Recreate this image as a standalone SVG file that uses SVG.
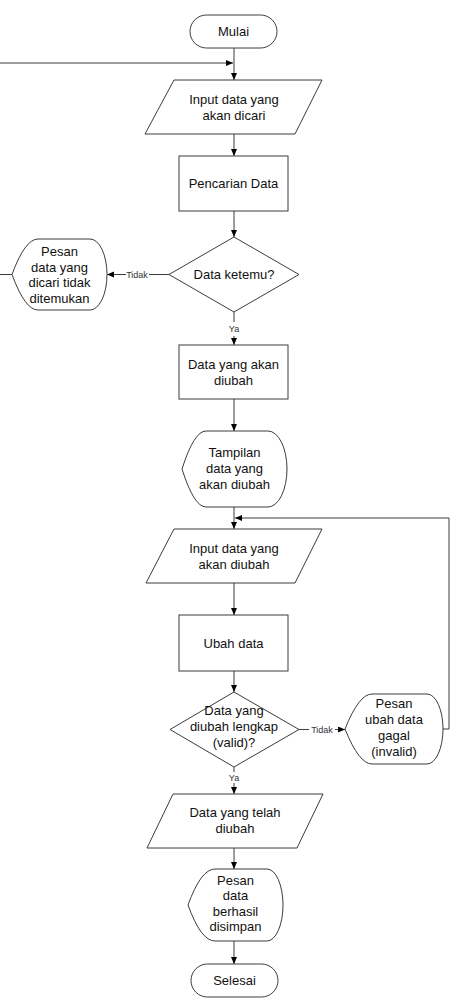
<svg xmlns="http://www.w3.org/2000/svg" width="454" height="998" viewBox="0 0 454 998">
<style>
.s{fill:#fff;stroke:#3c3c3c;stroke-width:1}
.c{fill:none;stroke:#3c3c3c;stroke-width:1}
.t{font-family:"Liberation Sans",Arial,sans-serif;font-size:13px;fill:#111;text-anchor:middle}
.l{font-family:"Liberation Sans",Arial,sans-serif;font-size:9px;fill:#333;text-anchor:middle}
</style>
<defs>
<marker id="ah" markerUnits="userSpaceOnUse" markerWidth="8" markerHeight="8" refX="7" refY="3" orient="auto">
<path d="M0,0 L7,3 L0,6 Z" fill="#000"/>
</marker>
</defs>
<rect width="454" height="998" fill="#fff"/>
<g id="connectors">
<line class="c" x1="234" y1="48" x2="234" y2="80" marker-end="url(#ah)"/>
<path class="c" d="M12,274.5 H-3 V63 H233" marker-end="url(#ah)"/>
<line class="c" x1="234" y1="134" x2="234" y2="156" marker-end="url(#ah)"/>
<line class="c" x1="234" y1="211" x2="234" y2="237" marker-end="url(#ah)"/>
<line class="c" x1="169" y1="274.5" x2="149" y2="274.5"/>
<line class="c" x1="126" y1="274.5" x2="107" y2="274.5" marker-end="url(#ah)"/>
<text class="l" x="137" y="278">Tidak</text>
<line class="c" x1="234" y1="312" x2="234" y2="322"/>
<line class="c" x1="234" y1="336" x2="234" y2="345" marker-end="url(#ah)"/>
<text class="l" x="234" y="332">Ya</text>
<line class="c" x1="234" y1="399" x2="234" y2="431" marker-end="url(#ah)"/>
<line class="c" x1="234" y1="507" x2="234" y2="529" marker-end="url(#ah)"/>
<path class="c" d="M443,729 H449 V518 H235" marker-end="url(#ah)"/>
<line class="c" x1="234" y1="583" x2="234" y2="615" marker-end="url(#ah)"/>
<line class="c" x1="234" y1="671" x2="234" y2="692" marker-end="url(#ah)"/>
<line class="c" x1="299" y1="729.5" x2="309" y2="729.5"/>
<line class="c" x1="335" y1="729.5" x2="345" y2="729.5" marker-end="url(#ah)"/>
<text class="l" x="322" y="732.5">Tidak</text>
<line class="c" x1="234" y1="767" x2="234" y2="772"/>
<line class="c" x1="234" y1="783" x2="234" y2="794" marker-end="url(#ah)"/>
<text class="l" x="234" y="781">Ya</text>
<line class="c" x1="234" y1="848" x2="234" y2="869" marker-end="url(#ah)"/>
<line class="c" x1="234" y1="941" x2="234" y2="964" marker-end="url(#ah)"/>
</g>
<g id="mulai">
<rect class="s" x="190" y="15" width="87" height="33" rx="16.5"/>
<text class="t" x="233.5" y="36">Mulai</text>
</g>
<g id="input-cari">
<polygon class="s" points="174,80 322,80 295,134 145,134"/>
<text class="t" x="234" y="103.5">Input data yang</text>
<text class="t" x="234" y="119.5">akan dicari</text>
</g>
<g id="pencarian">
<rect class="s" x="179" y="156" width="109" height="55"/>
<text class="t" x="233.5" y="188">Pencarian Data</text>
</g>
<g id="ketemu">
<polygon class="s" points="234,237 299,274.5 234,312 169,274.5"/>
<text class="t" x="234" y="279">Data ketemu?</text>
</g>
<g id="pesan-tidak-ditemukan">
<path class="s" d="M12,274.5 Q25,239 38,239 L90,239 A17,35.5 0 0 1 90,310 L38,310 Q25,310 12,274.5 Z"/>
<text class="t" x="59.5" y="256">Pesan</text>
<text class="t" x="59.5" y="271.5">data yang</text>
<text class="t" x="59.5" y="287">dicari tidak</text>
<text class="t" x="59.5" y="302.5">ditemukan</text>
</g>
<g id="data-akan-diubah">
<rect class="s" x="179" y="345" width="109" height="54"/>
<text class="t" x="233.5" y="368.5">Data yang akan</text>
<text class="t" x="233.5" y="384.5">diubah</text>
</g>
<g id="tampilan">
<path class="s" d="M182,469 Q194,431 206,431 L268,431 A19,38 0 0 1 268,507 L206,507 Q194,507 182,469 Z"/>
<text class="t" x="234.5" y="457">Tampilan</text>
<text class="t" x="234.5" y="473">data yang</text>
<text class="t" x="234.5" y="489">akan diubah</text>
</g>
<g id="input-ubah">
<polygon class="s" points="174,529 322,529 295,583 146,583"/>
<text class="t" x="234" y="552.5">Input data yang</text>
<text class="t" x="234" y="568.5">akan diubah</text>
</g>
<g id="ubah-data">
<rect class="s" x="179" y="615" width="109" height="56"/>
<text class="t" x="233.5" y="647.5">Ubah data</text>
</g>
<g id="valid">
<polygon class="s" points="234,692 299,729.5 234,767 170,729.5"/>
<text class="t" x="234" y="715">Data yang</text>
<text class="t" x="234" y="731">diubah lengkap</text>
<text class="t" x="234" y="747">(valid)?</text>
</g>
<g id="pesan-gagal">
<path class="s" d="M345,729 Q359,694 372,694 L427,694 A16,35 0 0 1 427,764 L372,764 Q359,764 345,729 Z"/>
<text class="t" x="394" y="708">Pesan</text>
<text class="t" x="394" y="724">ubah data</text>
<text class="t" x="394" y="740">gagal</text>
<text class="t" x="394" y="756">(invalid)</text>
</g>
<g id="data-telah-diubah">
<polygon class="s" points="173,794 323,794 297,848 147,848"/>
<text class="t" x="235" y="817">Data yang telah</text>
<text class="t" x="235" y="833">diubah</text>
</g>
<g id="pesan-berhasil">
<path class="s" d="M188,905 Q201,869 215,869 L267,869 A16,36 0 0 1 267,941 L215,941 Q201,941 188,905 Z"/>
<text class="t" x="235.5" y="884.5">Pesan</text>
<text class="t" x="235.5" y="900">data</text>
<text class="t" x="235.5" y="915.5">berhasil</text>
<text class="t" x="235.5" y="931">disimpan</text>
</g>
<g id="selesai">
<rect class="s" x="191" y="964" width="87" height="33" rx="16.5"/>
<text class="t" x="234.5" y="985">Selesai</text>
</g>
</svg>
